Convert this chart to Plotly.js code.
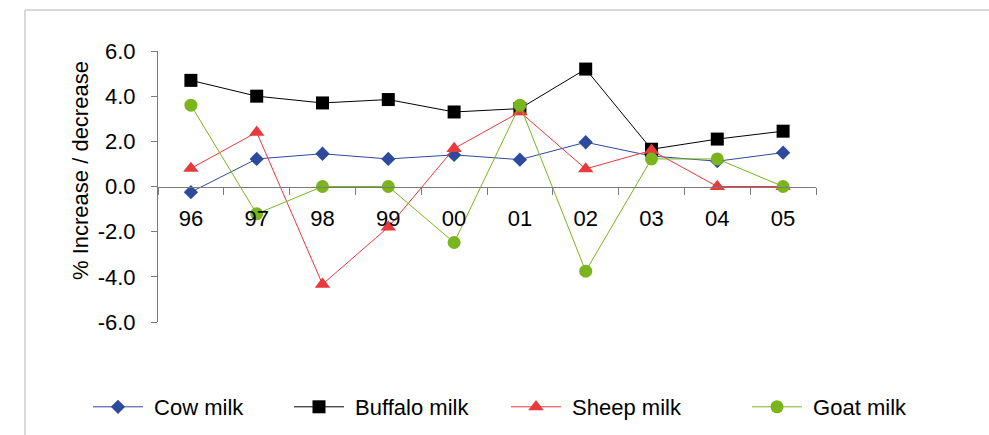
<!DOCTYPE html>
<html>
<head>
<meta charset="utf-8">
<script src="https://cdn.plot.ly/plotly-3.0.1.min.js"></script>
<style>
  html, body { margin: 0; padding: 0; background: #ffffff; }
  #chart { width: 989px; height: 435px; }
</style>
</head>
<body>
<div id="chart"></div>
<script>
// Years (two-digit labels) on the category axis
const years = ["96", "97", "98", "99", "00", "01", "02", "03", "04", "05"];

// Annual % change in milk production, by animal
const cowMilk     = [-0.25, 1.22, 1.45, 1.22, 1.40, 1.19, 1.96, 1.35, 1.12, 1.50];
const buffaloMilk = [4.70, 4.00, 3.70, 3.85, 3.30, 3.45, 5.20, 1.65, 2.10, 2.45];
const sheepMilk   = [0.80, 2.40, -4.33, -1.80, 1.68, 3.30, 0.78, 1.60, 0.00, 0.00];
const goatMilk    = [3.60, -1.21, 0.00, 0.00, -2.48, 3.60, -3.75, 1.22, 1.22, 0.00];

// Value axis ticks
const yTickVals   = [-6, -4, -2, 0, 2, 4, 6];
const yTickLabels = ["-6.0", "-4.0", "-2.0", "0.0", "2.0", "4.0", "6.0"];
const yTitle = "% Increase / decrease";

const FONT = "Liberation Sans, Arial, Helvetica, sans-serif";
const FS = 22;

function series(name, values, color, symbol, size, legendId) {
  return {
    type: "scatter",
    mode: "lines+markers",
    name: "\u00a0" + name,
    x: years,
    y: values,
    legend: legendId,
    line: { color: color, width: 1 },
    marker: { color: color, symbol: symbol, size: size, line: { width: 0 } },
    cliponaxis: false,
    hoverinfo: "x+y+name"
  };
}

const traces = [
  series("Cow milk", cowMilk, "#2e4a9c", "diamond", 11, "legend"),
  series("Buffalo milk", buffaloMilk, "#000000", "square", 13, "legend2"),
  series("Sheep milk", sheepMilk, "#e8393c", "triangle-up", 13.5, "legend3"),
  series("Goat milk", goatMilk, "#7ab51d", "circle", 13, "legend4")
];

// Plot area spans x 158..816 px and y 51..322 px
const L = 158, R = 173, T = 51, B = 113;
const W = 989 - L - R, H = 435 - T - B;
const px = v => (v - L) / W;          // pixel x -> paper x
const py = v => (435 - B - v) / H;    // pixel y -> paper y

function legendAt(xPix) {
  return {
    x: px(xPix), xanchor: "left",
    y: py(407), yanchor: "middle",
    orientation: "h",
    bgcolor: "rgba(0,0,0,0)",
    borderwidth: 0,
    itemwidth: 50,
    font: { family: FONT, size: FS, color: "#000000" }
  };
}

const axisGrey = "#7a7a7a";

const layout = {
  width: 989,
  height: 435,
  margin: { l: L, r: R, t: T, b: B, pad: 0, autoexpand: false },
  paper_bgcolor: "#ffffff",
  plot_bgcolor: "#ffffff",
  showlegend: true,
  font: { family: FONT, size: FS, color: "#000000" },
  xaxis: {
    type: "category",
    range: [-0.5, 9.5],
    anchor: "free",
    position: 0.5,
    showline: true,
    linecolor: axisGrey,
    linewidth: 1,
    ticks: "outside",
    tickson: "boundaries",
    ticklen: 7,
    tickcolor: axisGrey,
    tickwidth: 1,
    ticklabelstandoff: 12,
    showgrid: false,
    zeroline: false,
    tickfont: { family: FONT, size: FS, color: "#000000" },
    fixedrange: true,
    automargin: false
  },
  yaxis: {
    range: [-6, 6],
    tickvals: yTickVals,
    ticktext: yTickLabels,
    showline: true,
    linecolor: axisGrey,
    linewidth: 1,
    ticks: "outside",
    ticklen: 6,
    tickcolor: axisGrey,
    tickwidth: 1,
    ticklabelstandoff: 11,
    showgrid: false,
    zeroline: false,
    tickfont: { family: FONT, size: FS, color: "#000000" },
    fixedrange: true,
    automargin: false
  },
  annotations: [
    {
      text: yTitle,
      xref: "paper", yref: "paper",
      x: px(80), y: py(171),
      xanchor: "center", yanchor: "middle",
      textangle: -90,
      showarrow: false,
      font: { family: FONT, size: FS, color: "#000000" }
    }
  ],
  legend: legendAt(88),
  legend2: legendAt(289),
  legend3: legendAt(506),
  legend4: legendAt(747),
  shapes: [
    // light frame around the chart area (top and left edges)
    { type: "line", xref: "paper", yref: "paper",
      x0: px(25), x1: px(989), y0: py(10), y1: py(10),
      line: { color: "#d9d9d9", width: 2 } },
    { type: "line", xref: "paper", yref: "paper",
      x0: px(25), x1: px(25), y0: py(10), y1: py(435),
      line: { color: "#d9d9d9", width: 2 } }
  ]
};

Plotly.newPlot("chart", traces, layout, { displayModeBar: false, staticPlot: true });
</script>
</body>
</html>
